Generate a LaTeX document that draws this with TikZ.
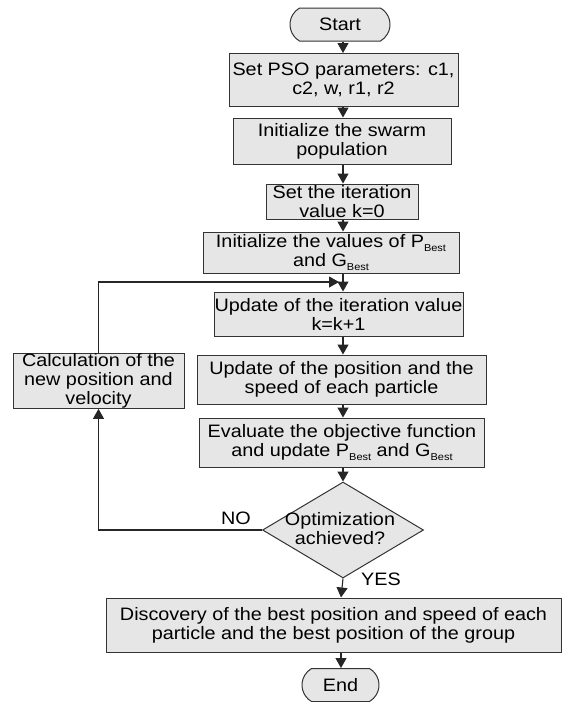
\documentclass[tikz,border=0pt]{standalone}
\usepackage{fontspec}
\setmainfont{Liberation Sans}[FakeStretch=1.1]
\usetikzlibrary{shapes.misc,shapes.geometric,arrows.meta}
\definecolor{boxfill}{HTML}{E6E6E6}
\definecolor{edgecol}{HTML}{333333}
\newcommand{\sbest}{\raisebox{-0.4ex}{\fontsize{10}{10}\selectfont Best}}
\begin{document}
\begin{tikzpicture}[x=1pt,y=-1pt,
  every node/.style={font=\fontsize{18}{19}\selectfont},
  box/.style={draw=edgecol, line width=1pt, fill=boxfill, rectangle, align=center, inner sep=0pt},
  term/.style={draw=edgecol, line width=1pt, fill=boxfill, rounded rectangle, rounded rectangle arc length=120, inner sep=0pt},
  dec/.style={draw=edgecol, line width=1pt, fill=boxfill, diamond, inner sep=0pt},
  arr/.style={draw=black!85, line width=1.1pt, -{Triangle[length=10pt,width=11pt]}},
  plain/.style={inner sep=0pt, align=center}
]
\useasboundingbox (0,0) rectangle (562,702);
\coordinate (ax) at (343,0);
\coordinate (bx) at (341,0);

\node[term, minimum width=100pt, minimum height=33pt] (start) at (340,24.5) {Start};
\node[box, minimum width=229pt, minimum height=53pt] (pso) at (343.5,80) {Set PSO parameters: c1,\\c2, w, r1, r2};
\node[box, minimum width=218pt, minimum height=46pt] (swarm) at (342,141) {Initialize the swarm\\population};
\node[box, minimum width=152pt, minimum height=35pt] (iter0) at (342,201.5) {Set the iteration\\value k=0};
\node[box, minimum width=256pt, minimum height=41pt] (initpg) at (331,252.5) {Initialize the values of P\sbest\\and G\sbest};
\node[box, minimum width=249pt, minimum height=44pt] (iterk) at (338.5,314) {Update of the iteration value\\k=k+1};
\node[box, minimum width=171pt, minimum height=54pt] (calc) at (98.5,381) {Calculation of the\\new position and\\velocity};
\node[box, minimum width=289pt, minimum height=49pt] (updpos) at (341.5,379.5) {Update of the position and the\\speed of each particle};
\node[box, minimum width=285pt, minimum height=49pt] (eval) at (342,442.5) {Evaluate the objective function\\and update P\sbest{} and G\sbest};
\node[dec, minimum width=161pt, minimum height=96pt] (dia) at (343,530) {};
\node[plain] (diatext) at (340,529) {Optimization\\achieved?};
\node[box, minimum width=455pt, minimum height=54pt] (disc) at (333.5,625) {Discovery of the best position and speed of each\\particle and the best position of the group};
\node[term, minimum width=77pt, minimum height=33pt] (end) at (340.5,685) {End};

\node[plain] (no) at (236,518) {NO};
\node[plain] (yes) at (381,579) {YES};

\coordinate (loopend) at (339,282);

\draw[arr] (ax |- start.south) -- (ax |- pso.north);
\draw[arr] (ax |- pso.south) -- (ax |- swarm.north);
\draw[arr] (ax |- swarm.south) -- (ax |- iter0.north);
\draw[arr] (ax |- iter0.south) -- (ax |- initpg.north);
\draw[arr] (ax |- initpg.south) -- (ax |- iterk.north);
\draw[arr] (ax |- iterk.south) -- (ax |- updpos.north);
\draw[arr] (ax |- updpos.south) -- (ax |- eval.north);
\draw[arr] (ax |- eval.south) -- (dia.north);
\draw[arr] (dia.south) -- (bx |- disc.north);
\draw[arr] (bx |- disc.south) -- (bx |- end.north);
\draw[arr] (dia.west) -- (dia.west -| calc.south) -- (calc.south);
\draw[arr] (calc.north) -- (calc.north |- loopend) -- (loopend);
\end{tikzpicture}
\end{document}
